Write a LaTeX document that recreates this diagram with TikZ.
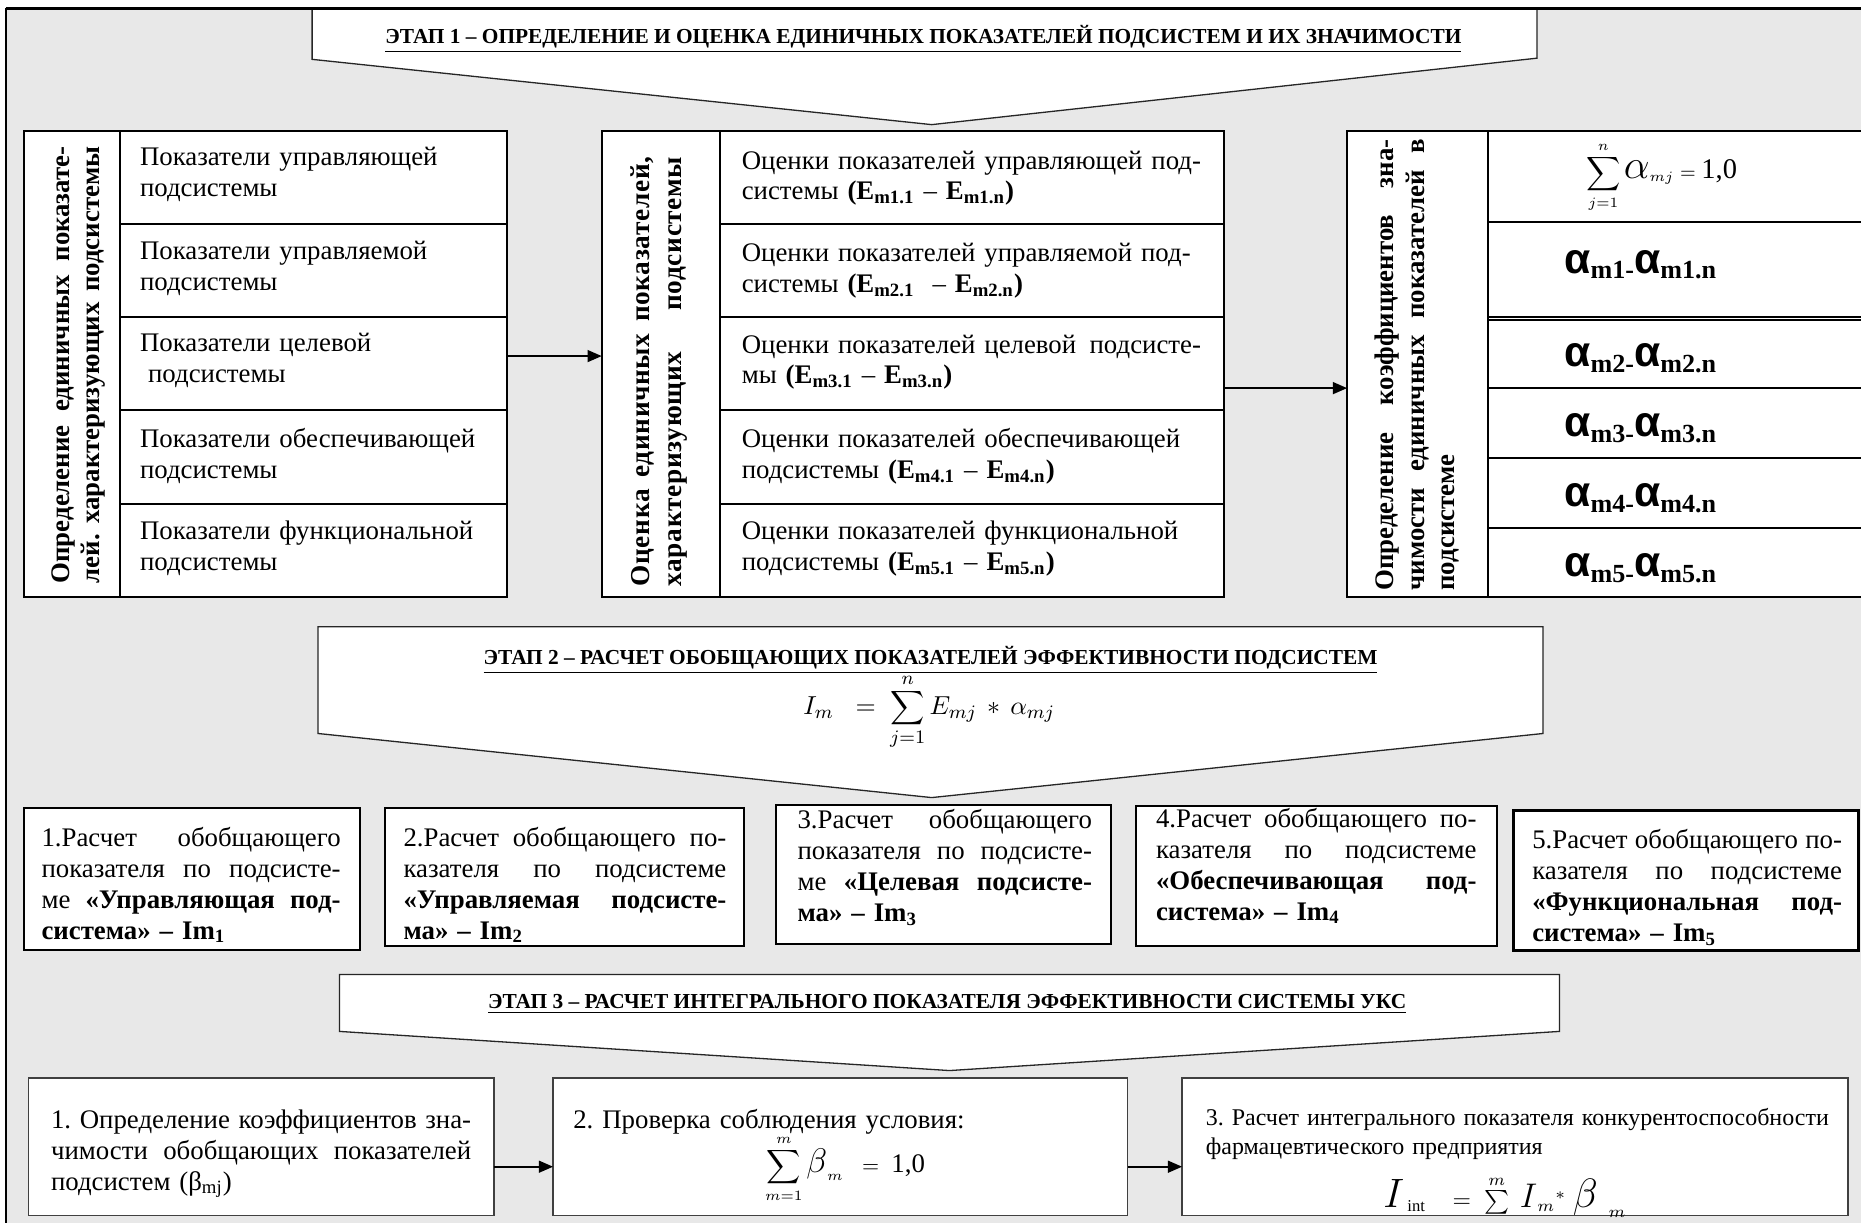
\documentclass[tikz,border=0pt]{standalone}
\usepackage{fontspec}
\setmainfont{Liberation Serif}
\newfontfamily\sansalpha{Liberation Sans}
\usetikzlibrary{arrows.meta,calc}
\definecolor{bg}{RGB}{232,232,232}
\frenchspacing
\newcommand{\jl}[1]{\makebox[\hsize][s]{\spaceskip=0pt\xspaceskip=0pt #1}}
\newcommand{\Es}[1]{\textbf{E\textsubscript{#1}}}
\newcommand{\alp}{{\sansalpha\bfseries\fontsize{18}{18}\selectfont α}}
\newcommand{\asub}[1]{\raisebox{-2.5pt}{\fontsize{11}{11}\selectfont\bfseries #1}}
\newcommand{\szm}[2]{\mbox{\fontsize{#1}{#1}\selectfont$#2$}}
\begin{document}
\begin{tikzpicture}[x=0.5pt,y=-0.5pt,
  every node/.style={inner sep=0pt, outer sep=0pt},
  box/.style={draw, line width=0.85pt, fill=white, anchor=north west},
  sbox/.style={draw=black!75, line width=0.7pt, fill=white, anchor=north west},
  banner/.style={draw=black!85, line width=0.55pt, fill=white},
  ttl/.style={font=\bfseries\fontsize{9}{11}\selectfont},
  body/.style={font=\fontsize{11.3}{13}\selectfont, align=left, anchor=north west},
  rot/.style={rotate=90, font=\bfseries\fontsize{11.3}{13.5}\selectfont, align=left},
  arr/.style={-{Triangle[length=6pt,width=5pt]}, line width=0.8pt}]
\useasboundingbox (0,0) rectangle (1568,1030);
\clip (0,0) rectangle (1568,1030);
% background frame
\fill[bg] (5,7) rectangle (1575,1035);
% ---------- stage 1 ----------
\draw[banner] (263,7) -- (1295,7) -- (1295,49) -- (785,105) -- (263,50) -- cycle;
\draw[line width=1.3pt] (5,7) -- (1575,7);
\draw[line width=0.9pt] (5,7) -- (5,1035);
\node[ttl] (t1) at (778,33) {\underline{ЭТАП 1 – ОПРЕДЕЛЕНИЕ И ОЦЕНКА ЕДИНИЧНЫХ ПОКАЗАТЕЛЕЙ ПОДСИСТЕМ И ИХ ЗНАЧИМОСТИ}};
% group 1
\node[box, minimum width=203.5pt, minimum height=196.5pt] (g1) at (20,110) {};
\node[box, minimum width=40.5pt, minimum height=196.5pt] (g1l) at (20,110) {};
\node[box, minimum width=163pt, minimum height=39.3pt] (g1c1) at (101,110) {};
\node[box, minimum width=163pt, minimum height=39.3pt] (g1c2) at (101,188.6) {};
\node[box, minimum width=163pt, minimum height=39.3pt] (g1c3) at (101,267.2) {};
\node[box, minimum width=163pt, minimum height=39.3pt] (g1c4) at (101,345.8) {};
\node[box, minimum width=163pt, minimum height=39.3pt] (g1c5) at (101,424.4) {};
\node[rot, text width=184pt, font=\bfseries\fontsize{11.3}{12.5}\selectfont] (g1t) at (66,307.5) {\jl{Определение единичных показате-}\\\jl{лей. характеризующих подсистемы}};
\node[body, text width=150pt] (g1a) at (118,124) {Показатели управляющей\\подсистемы};
\node[body, text width=150pt] (g1b) at (118,203) {Показатели управляемой\\подсистемы};
\node[body, text width=150pt] (g1c) at (118,281) {Показатели целевой\\\hspace{0.3em}подсистемы};
\node[body, text width=150pt] (g1d) at (118,361) {Показатели обеспечивающей\\подсистемы};
\node[body, text width=150pt] (g1e) at (118,439) {Показатели функциональной\\подсистемы};
% group 2
\node[box, minimum width=262pt, minimum height=196.5pt] (g2) at (507,110) {};
\node[box, minimum width=50pt, minimum height=196.5pt] (g2l) at (507,110) {};
\node[box, minimum width=212pt, minimum height=39.3pt] (g2c1) at (607,110) {};
\node[box, minimum width=212pt, minimum height=39.3pt] (g2c2) at (607,188.6) {};
\node[box, minimum width=212pt, minimum height=39.3pt] (g2c3) at (607,267.2) {};
\node[box, minimum width=212pt, minimum height=39.3pt] (g2c4) at (607,345.8) {};
\node[box, minimum width=212pt, minimum height=39.3pt] (g2c5) at (607,424.4) {};
\node[rot, text width=181pt, font=\bfseries\fontsize{11.5}{13.5}\selectfont\addfontfeatures{LetterSpace=2.5}] (g2t) at (555,313) {\jl{Оценка единичных показателей,}\\\jl{характеризующих подсистемы}};
\node[body, text width=205pt] (g2a) at (625,127) {Оценки показателей управляющей под-\\системы \textbf{(}\Es{m1.1} – \Es{m1.n}\textbf{)}};
\node[body, text width=205pt] (g2b) at (625,205) {Оценки показателей управляемой под-\\системы \textbf{(}\Es{m2.1}\ \ – \Es{m2.n}\textbf{)}};
\node[body, text width=205pt] (g2c) at (625,282) {Оценки показателей целевой\,\ подсисте-\\мы \textbf{(}\Es{m3.1} – \Es{m3.n}\textbf{)}};
\node[body, text width=205pt] (g2d) at (625,361) {Оценки показателей обеспечивающей\\подсистемы \textbf{(}\Es{m4.1} – \Es{m4.n}\textbf{)}};
\node[body, text width=205pt] (g2e) at (625,439) {Оценки показателей функциональной\\подсистемы \textbf{(}\Es{m5.1} – \Es{m5.n}\textbf{)}};
% group 3
\node[box, minimum width=222.5pt, minimum height=196.5pt] (g3) at (1135,110) {};
\node[box, minimum width=59.5pt, minimum height=196.5pt] (g3l) at (1135,110) {};
\node[box, minimum width=163pt, minimum height=38.5pt] (g3c1) at (1254,110) {};
\node[box, minimum width=163pt, minimum height=40pt] (g3c2) at (1254,187) {};
\node[box, minimum width=163pt, minimum height=28.5pt] (g3c3) at (1254,270) {};
\node[box, minimum width=163pt, minimum height=29.5pt] (g3c4) at (1254,327) {};
\node[box, minimum width=163pt, minimum height=29.5pt] (g3c5) at (1254,386) {};
\node[box, minimum width=163pt, minimum height=29pt] (g3c6) at (1254,445) {};
\node[rot, text width=190pt, font=\bfseries\fontsize{11.3}{13}\selectfont] (g3t) at (1194,307.5) {\jl{Определение коэффициентов зна-}\\\jl{чимости единичных показателей в}\\подсистеме};
\node[font=\fontsize{8.5}{10}\selectfont] (f1) at (1400,149) {$\displaystyle\sum_{j=1}^{n}\szm{19}{\alpha}_{mj}=\mbox{\fontsize{12}{12}\selectfont 1,0}$};
\node (a1) at (1382,223) {\alp\asub{m1-}\alp\asub{m1.n}};
\node (a2) at (1382,302) {\alp\asub{m2-}\alp\asub{m2.n}};
\node (a3) at (1382,361) {\alp\asub{m3-}\alp\asub{m3.n}};
\node (a4) at (1382,420) {\alp\asub{m4-}\alp\asub{m4.n}};
\node (a5) at (1382,479) {\alp\asub{m5-}\alp\asub{m5.n}};
% arrows stage 1
\coordinate (y1) at (0,300);
\coordinate (y2) at (0,327);
\draw[arr] (g1.east |- y1) -- (g2.west |- y1);
\draw[arr] (g2.east |- y2) -- (g3.west |- y2);
% ---------- stage 2 ----------
\draw[banner] (268,528) -- (1300,528) -- (1300,618) -- (785,672) -- (268,618) -- cycle;
\node[ttl] (t2) at (784,556) {\underline{ЭТАП 2 – РАСЧЕТ ОБОБЩАЮЩИХ ПОКАЗАТЕЛЕЙ ЭФФЕКТИВНОСТИ ПОДСИСТЕМ}};
\node[font=\fontsize{11}{13}\selectfont] (f2) at (783,600) {$\displaystyle I_{m}\;\;=\;\sum_{j=1}^{n}E_{mj}\,*\,\alpha_{mj}$};
\node[box, minimum width=141.5pt, minimum height=59.5pt] (s1) at (20,681) {};
\node[box, minimum width=151.5pt, minimum height=58pt] (s2) at (324,681) {};
\node[box, minimum width=141pt, minimum height=58.5pt] (s3) at (654,678) {};
\node[box, minimum width=152pt, minimum height=59pt] (s4) at (957,679) {};
\node[box, line width=1.3pt, minimum width=145.5pt, minimum height=59pt] (s5) at (1275,683) {};
\node[body, text width=126pt] (s1t) at (35,697) {\jl{1.Расчет обобщающего}\\\jl{показателя по подсисте-}\\\jl{ме \textbf{«Управляющая под-}}\\\textbf{система» – Im\textsubscript{1}}};
\node[body, text width=136pt] (s2t) at (340,697) {\jl{2.Расчет обобщающего по-}\\\jl{казателя по подсистеме}\\\jl{\textbf{«Управляемая подсисте-}}\\\textbf{ма» – Im\textsubscript{2}}};
\node[body, text width=124pt] (s3t) at (672,682) {\jl{3.Расчет обобщающего}\\\jl{показателя по подсисте-}\\\jl{ме \textbf{«Целевая подсисте-}}\\\textbf{ма» – Im\textsubscript{3}}};
\node[body, text width=135pt] (s4t) at (974,681) {\jl{4.Расчет обобщающего по-}\\\jl{казателя по подсистеме}\\\jl{\textbf{«Обеспечивающая под-}}\\\textbf{система» – Im\textsubscript{4}}};
\node[body, text width=130.5pt] (s5t) at (1291,699) {\jl{5.Расчет обобщающего по-}\\\jl{казателя по подсистеме}\\\jl{\textbf{«Функциональная под-}}\\\textbf{система» – Im\textsubscript{5}}};
% ---------- stage 3 ----------
\draw[banner] (286,821) -- (1314,821) -- (1314,869) -- (800,902) -- (286,869) -- cycle;
\node[ttl] (t3) at (798,846) {\underline{ЭТАП 3 – РАСЧЕТ ИНТЕГРАЛЬНОГО ПОКАЗАТЕЛЯ ЭФФЕКТИВНОСТИ СИСТЕМЫ УКС}};
\node[sbox, minimum width=196pt, minimum height=58pt] (b1) at (24,908) {};
\node[sbox, minimum width=242pt, minimum height=58pt] (b2) at (466,908) {};
\node[sbox, minimum width=280.5pt, minimum height=58pt] (b3) at (996,908) {};
\node[body, text width=177pt] (b1t) at (43,935) {\jl{1. Определение коэффициентов зна-}\\\jl{чимости обобщающих показателей}\\подсистем (β\textsubscript{mj})};
\node[body, text width=230pt] (b2t) at (483,935) {2. Проверка соблюдения условия:};
\node[font=\fontsize{9}{11}\selectfont] (f3) at (712,985) {$\displaystyle\sum_{m=1}^{m}\szm{14}{\beta}_{m}\;\;=\;\mbox{\fontsize{11.3}{13}\selectfont 1,0}$};
\node[body, font=\fontsize{10.1}{12}\selectfont, text width=290pt] (b3t) at (1016,934) {3. Расчет интегрального показателя конкурентоспособности\\фармацевтического предприятия};
\node[font=\fontsize{10}{12}\selectfont] (f4) at (1268,1008) {$\szm{19}{I}_{\,\mathrm{int}}\;\;\;=\;\sum\limits^{m}\;\szm{15}{I}_{m}{}^{*}\;\szm{18}{\beta}_{\;\;m}$};
\coordinate (y3) at (0,983);
\draw[arr] (b1.east |- y3) -- (b2.west |- y3);
\draw[arr] (b2.east |- y3) -- (b3.west |- y3);
\end{tikzpicture}
\end{document}
